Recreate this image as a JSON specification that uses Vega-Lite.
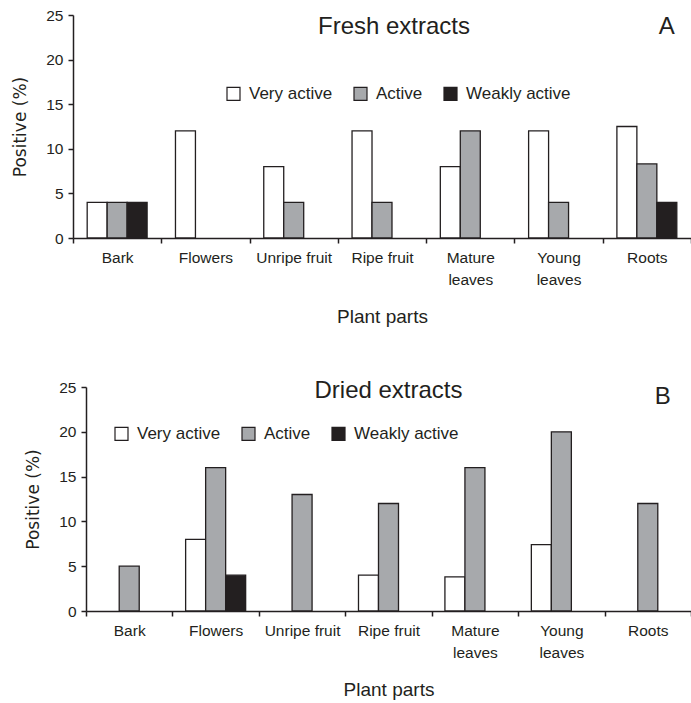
{
  "$schema": "https://vega.github.io/schema/vega-lite/v6.json",
  "padding": {"left": 11, "top": 8, "right": 0, "bottom": 0},
  "background": "white",
  "datasets": {
    "fresh": [
      {"part": "Bark", "activity": "Very active", "positive": 4},
      {"part": "Bark", "activity": "Active", "positive": 4},
      {"part": "Bark", "activity": "Weakly active", "positive": 4},
      {"part": "Flowers", "activity": "Very active", "positive": 12},
      {"part": "Unripe fruit", "activity": "Very active", "positive": 8},
      {"part": "Unripe fruit", "activity": "Active", "positive": 4},
      {"part": "Ripe fruit", "activity": "Very active", "positive": 12},
      {"part": "Ripe fruit", "activity": "Active", "positive": 4},
      {"part": "Mature leaves", "activity": "Very active", "positive": 8},
      {"part": "Mature leaves", "activity": "Active", "positive": 12},
      {"part": "Young leaves", "activity": "Very active", "positive": 12},
      {"part": "Young leaves", "activity": "Active", "positive": 4},
      {"part": "Roots", "activity": "Very active", "positive": 12.5},
      {"part": "Roots", "activity": "Active", "positive": 8.3},
      {"part": "Roots", "activity": "Weakly active", "positive": 4}
    ],
    "dried": [
      {"part": "Bark", "activity": "Active", "positive": 5},
      {"part": "Flowers", "activity": "Very active", "positive": 8},
      {"part": "Flowers", "activity": "Active", "positive": 16},
      {"part": "Flowers", "activity": "Weakly active", "positive": 4},
      {"part": "Unripe fruit", "activity": "Active", "positive": 13},
      {"part": "Ripe fruit", "activity": "Very active", "positive": 4},
      {"part": "Ripe fruit", "activity": "Active", "positive": 12},
      {"part": "Mature leaves", "activity": "Very active", "positive": 3.8},
      {"part": "Mature leaves", "activity": "Active", "positive": 16},
      {"part": "Young leaves", "activity": "Very active", "positive": 7.4},
      {"part": "Young leaves", "activity": "Active", "positive": 20},
      {"part": "Roots", "activity": "Active", "positive": 12}
    ]
  },
  "columns": 1,
  "spacing": 52,
  "resolve": {"scale": {"color": "independent", "x": "independent", "y": "independent", "xOffset": "independent"}, "legend": {"color": "independent"}},
  "concat": [
    {
      "resolve": {"scale": {"color": "independent"}, "legend": {"color": "independent"}},
      "hconcat": [
        {
          "width": 618,
          "height": 223,
          "title": {"text": "Fresh extracts", "offset": -43, "baseline": "middle", "dx": 12},
          "layer": [
            {
              "data": {"name": "fresh"},
              "mark": {"type": "bar", "stroke": "#231f20", "strokeWidth": 1.3},
              "encoding": {
                "x": {
                  "field": "part", "type": "nominal",
                  "sort": ["Bark", "Flowers", "Unripe fruit", "Ripe fruit", "Mature leaves", "Young leaves", "Roots"],
                  "scale": {"paddingInner": 0, "paddingOuter": 0},
                  "axis": {"title": "Plant parts"}
                },
                "xOffset": {
                  "field": "activity", "type": "nominal",
                  "sort": ["Very active", "Active", "Weakly active"],
                  "scale": {"domain": ["Very active", "Active", "Weakly active"], "paddingInner": 0, "paddingOuter": 0.71}
                },
                "y": {
                  "field": "positive", "type": "quantitative",
                  "scale": {"domain": [0, 25], "nice": false},
                  "axis": {"title": "Positive (%)", "values": [0, 5, 10, 15, 20, 25]}
                },
                "color": {
                  "field": "activity", "type": "nominal",
                  "scale": {"domain": ["Very active", "Active", "Weakly active"], "range": ["#ffffff", "#a7a9ac", "#231f20"]},
                  "legend": {"legendX": 152, "legendY": 70}
                }
              }
            },
            {
              "data": {"values": [{"panel": "A"}]},
              "mark": {"type": "text", "fontSize": 24, "font": "Liberation Sans", "color": "#231f20", "baseline": "middle", "dx": 20},
              "encoding": {
                "x": {"datum": "Roots"},
                "y": {"datum": 23.65},
                "text": {"field": "panel"}
              }
            }
          ]
        }
      ]
    },
    {
      "spacing": -53,
      "resolve": {"scale": {"color": "independent"}, "legend": {"color": "independent"}},
      "hconcat": [
        {
          "width": 1,
          "height": 10,
          "data": {"values": [{}]},
          "mark": {"type": "point", "opacity": 0},
          "encoding": {}
        },
        {
          "width": 605,
          "height": 224,
          "title": {"text": "Dried extracts", "offset": -35, "baseline": "middle"},
          "layer": [
            {
              "data": {"name": "dried"},
              "mark": {"type": "bar", "stroke": "#231f20", "strokeWidth": 1.3},
              "encoding": {
                "x": {
                  "field": "part", "type": "nominal",
                  "sort": ["Bark", "Flowers", "Unripe fruit", "Ripe fruit", "Mature leaves", "Young leaves", "Roots"],
                  "scale": {"paddingInner": 0, "paddingOuter": 0},
                  "axis": {"title": "Plant parts"}
                },
                "xOffset": {
                  "field": "activity", "type": "nominal",
                  "sort": ["Very active", "Active", "Weakly active"],
                  "scale": {"domain": ["Very active", "Active", "Weakly active"], "paddingInner": 0, "paddingOuter": 0.66}
                },
                "y": {
                  "field": "positive", "type": "quantitative",
                  "scale": {"domain": [0, 25], "nice": false},
                  "axis": {"title": "Positive (%)", "values": [0, 5, 10, 15, 20, 25]}
                },
                "color": {
                  "field": "activity", "type": "nominal",
                  "scale": {"domain": ["Very active", "Active", "Weakly active"], "range": ["#ffffff", "#a7a9ac", "#231f20"]},
                  "legend": {"legendX": 27, "legendY": 38}
                }
              }
            },
            {
              "data": {"values": [{"panel": "B"}]},
              "mark": {"type": "text", "fontSize": 24, "font": "Liberation Sans", "color": "#231f20", "baseline": "middle", "dx": 15},
              "encoding": {
                "x": {"datum": "Roots"},
                "y": {"datum": 23.9},
                "text": {"field": "panel"}
              }
            }
          ]
        }
      ]
    }
  ],
  "config": {
    "view": {"stroke": null},
    "font": "Liberation Sans",
    "title": {"font": "Liberation Sans", "fontSize": 24, "fontWeight": "normal", "color": "#231f20", "anchor": "middle", "frame": "group"},
    "axis": {
      "grid": false,
      "domainColor": "#231f20",
      "domainWidth": 1.5,
      "tickColor": "#231f20",
      "tickWidth": 1.5,
      "tickSize": 5,
      "labelFont": "Liberation Sans",
      "labelFontSize": 15.5,
      "labelColor": "#231f20",
      "labelPadding": 5,
      "titleColor": "#231f20",
      "titleFontWeight": "normal"
    },
    "axisX": {
      "labelAngle": 0,
      "labelBaseline": "top",
      "labelPadding": 7,
      "labelLineHeight": 22,
      "tickBand": "extent",
      "labelExpr": "datum.label == 'Mature leaves' ? ['Mature', 'leaves'] : datum.label == 'Young leaves' ? ['Young', 'leaves'] : datum.label",
      "titleFont": "Liberation Sans",
      "titleFontSize": 19,
      "titlePadding": 20
    },
    "axisY": {
      "titleFont": "DejaVu Sans",
      "titleFontSize": 17,
      "titlePadding": 16
    },
    "legend": {
      "orient": "none",
      "direction": "horizontal",
      "title": null,
      "padding": 0,
      "labelFont": "Liberation Sans",
      "labelFontSize": 17,
      "labelColor": "#231f20",
      "labelOffset": 7,
      "columnPadding": 18,
      "symbolType": "square",
      "symbolSize": 169,
      "symbolStrokeColor": "#231f20",
      "symbolStrokeWidth": 1.2
    }
  }
}
